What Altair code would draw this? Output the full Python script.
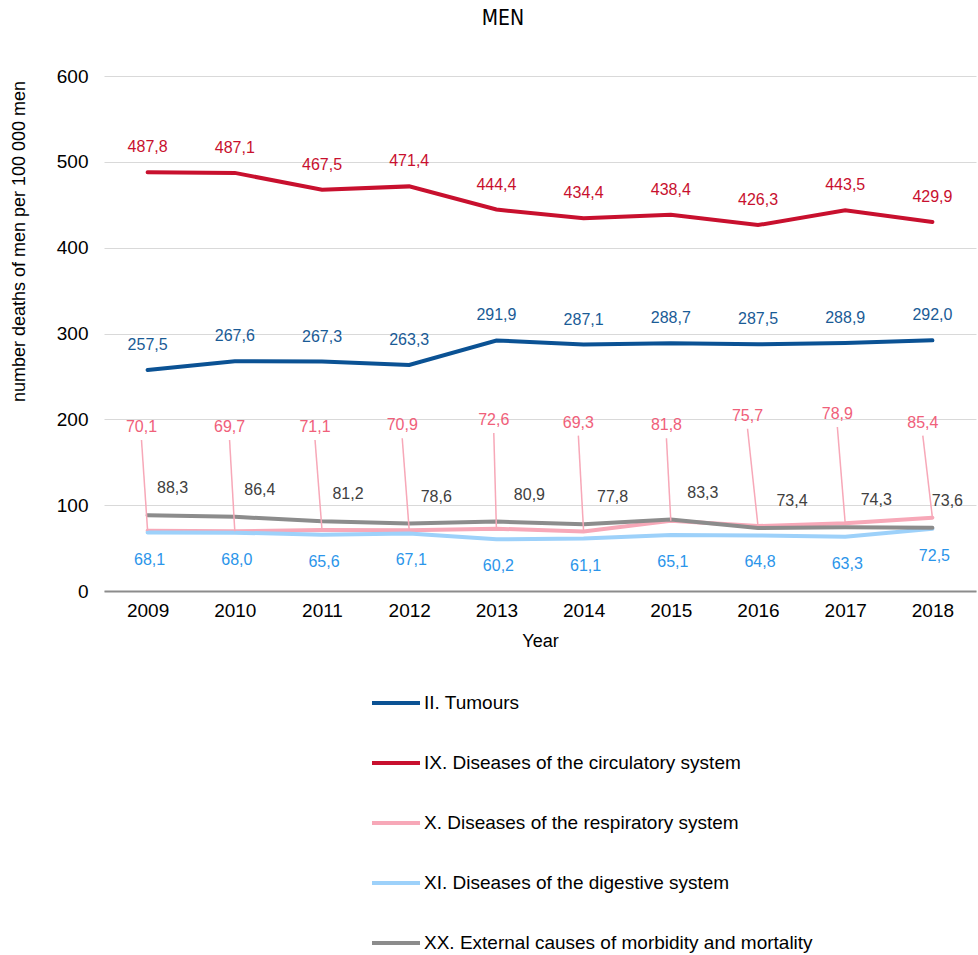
import altair as alt
import pandas as pd

# Standardised death rates of men by cause, 2009-2018
years = [2009, 2010, 2011, 2012, 2013, 2014, 2015, 2016, 2017, 2018]

series_names = [
    "II. Tumours",
    "IX. Diseases of the circulatory system",
    "X. Diseases of the respiratory system",
    "XI. Diseases of the digestive system",
    "XX. External causes of morbidity and mortality",
]

tumours = [257.5, 267.6, 267.3, 263.3, 291.9, 287.1, 288.7, 287.5, 288.9, 292.0]
circulatory = [487.8, 487.1, 467.5, 471.4, 444.4, 434.4, 438.4, 426.3, 443.5, 429.9]
respiratory = [70.1, 69.7, 71.1, 70.9, 72.6, 69.3, 81.8, 75.7, 78.9, 85.4]
digestive = [68.1, 68.0, 65.6, 67.1, 60.2, 61.1, 65.1, 64.8, 63.3, 72.5]
external = [88.3, 86.4, 81.2, 78.6, 80.9, 77.8, 83.3, 73.4, 74.3, 73.6]

line_colors = ["#0B5294", "#C8102E", "#F7A8B8", "#9DD1FA", "#8C8C8C"]

# Callout placement for the respiratory labels (year shift, height in axis units)
resp_label_dx = [-0.07, -0.06, -0.08, -0.08, -0.03, -0.06, -0.05, -0.12, -0.09, -0.11]
resp_label_at = [191, 191, 191, 193, 199, 196, 193, 204, 206, 196]

# Horizontal shift of the external-causes labels (pixels)
external_label_dx = [25, 25, 26, 27, 33, 29, 32, 34, 31, 15]

all_values = [tumours, circulatory, respiratory, digestive, external]
rows = []
for name, vals in zip(series_names, all_values):
    for y, v in zip(years, vals):
        rows.append({"year": y, "value": v, "series": name,
                     "label": f"{v:.1f}".replace(".", ",")})
df = pd.DataFrame(rows)

resp = df[df["series"] == series_names[2]].copy().reset_index(drop=True)
resp["lx"] = [y + d for y, d in zip(years, resp_label_dx)]
resp["ly"] = resp_label_at
resp["ly_line"] = [a - 15 for a in resp_label_at]

ext = df[df["series"] == series_names[4]].copy().reset_index(drop=True)
ext["lx"] = [y + d / 87.2 for y, d in zip(years, external_label_dx)]

FONT = "Liberation Sans"

x_enc = alt.X("year:Q", scale=alt.Scale(domain=[2008.5, 2018.5], nice=False, zero=False),
              axis=alt.Axis(values=years, format="d", grid=False, ticks=False,
                            domainColor="#8C8C8C", domainWidth=2,
                            labelFontSize=19, labelColor="#000000", labelFont=FONT,
                            labelPadding=10, title="Year", titleFontSize=18,
                            titleFont=FONT, titleFontWeight="normal",
                            titleColor="#000000", titlePadding=12))
y_enc = alt.Y("value:Q", scale=alt.Scale(domain=[0, 600], nice=False),
              axis=alt.Axis(values=[0, 100, 200, 300, 400, 500, 600], domain=False,
                            ticks=False, gridColor="#D9D9D9", gridWidth=1,
                            labelFontSize=19, labelColor="#000000", labelFont=FONT,
                            labelPadding=16,
                            title="number deaths of men per 100 000 men",
                            titleFontSize=18, titleFont=FONT, titleFontWeight="normal",
                            titleColor="#000000", titlePadding=28, titleY=165))

lines = alt.Chart(df).mark_line(strokeWidth=4, strokeCap="round").encode(
    x=x_enc,
    y=y_enc,
    color=alt.Color("series:N",
                    scale=alt.Scale(domain=series_names, range=line_colors),
                    legend=alt.Legend(title=None, orient="none", legendX=266, legendY=601,
                                      direction="vertical", symbolType="stroke",
                                      symbolSize=2304, symbolStrokeWidth=4,
                                      labelFontSize=19, labelFont=FONT,
                                      labelColor="#000000", labelOffset=2,
                                      rowPadding=24, padding=0, labelLimit=600)),
)


def value_labels(name, color, dx, dy):
    return alt.Chart(df[df["series"] == name]).mark_text(
        color=color, fontSize=16, font=FONT, dx=dx, dy=dy, baseline="middle"
    ).encode(x="year:Q", y="value:Q", text="label:N")


leaders = alt.Chart(resp).mark_rule(color="#F7A8B8", strokeWidth=1.5).encode(
    x="lx:Q", y="ly_line:Q", x2="year:Q", y2="value:Q")
resp_text = alt.Chart(resp).mark_text(
    color="#F0607A", fontSize=16, font=FONT, baseline="middle"
).encode(x="lx:Q", y="ly:Q", text="label:N")
ext_text = alt.Chart(ext).mark_text(
    color="#404040", fontSize=16, font=FONT, dy=-27, baseline="middle"
).encode(x="lx:Q", y="value:Q", text="label:N")

chart = alt.layer(
    lines,
    leaders,
    value_labels(series_names[0], "#1A5B96", 0, -25),
    value_labels(series_names[1], "#C8102E", 0, -25),
    resp_text,
    value_labels(series_names[3], "#2B95EA", 2, 27),
    ext_text,
).properties(
    width=872,
    height=515,
    title=alt.TitleParams("MEN", font="DejaVu Sans Condensed", fontSize=21,
                          fontWeight="normal", color="#000000", anchor="middle",
                          dx=-37, offset=38),
    autosize=alt.AutoSizeParams(type="none"),
    padding={"left": 104, "top": 76, "right": 2, "bottom": 364},
).configure_view(stroke=None)

chart.save("out.html", embed_options={"renderer": "svg", "actions": False})
